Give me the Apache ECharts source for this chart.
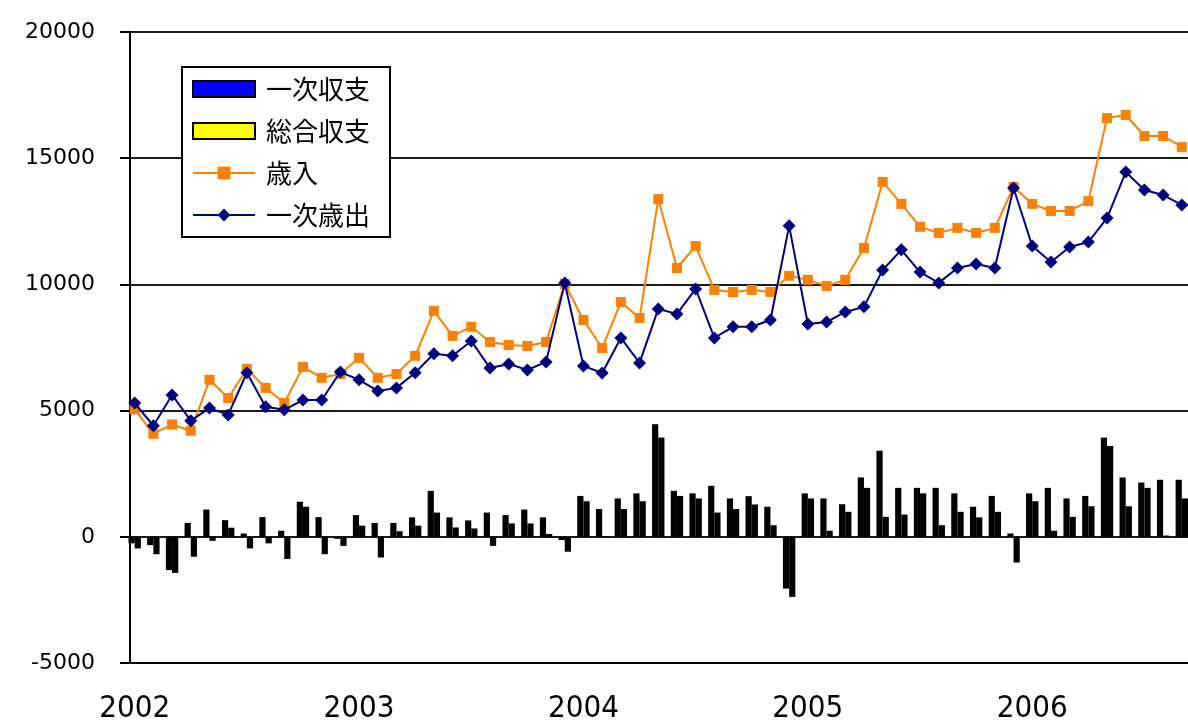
<!DOCTYPE html>
<html>
<head>
<meta charset="utf-8">
<script src="https://cdn.jsdelivr.net/npm/echarts@6/dist/echarts.min.js"></script>
<style>
html,body{margin:0;padding:0;background:#fff;}
#chart{width:1188px;height:725px;}
</style>
</head>
<body>
<div id="chart"></div>
<script>
// Monthly categories Jan 2002 - Sep 2006
const months = [];
for (let y = 2002; y <= 2006; y++) for (let m = 1; m <= 12; m++) months.push(y + '-' + (m < 10 ? '0' + m : m));
const yearLabels = ['2002', '2003', '2004', '2005', '2006'];

const primaryBalance = [ // 一次収支
  -260, -330, -1320, 550, 1080, 660, 130, 780, 240, 1390, 780, -80,
  860, 550, 550, 770, 1820, 770, 650, 960, 860, 1080, 770, -130,
  1620, 1100, 1520, 1720, 4460, 1820, 1720, 2020, 1520, 1610, 1190, -2050,
  1720, 1520, 1290, 2350, 3410, 1940, 1940, 1940, 1720, 1190, 1620, 130,
  1720, 1940, 1520, 1620, 3930, 2350, 2150, 2260, 2260
];
const overallBalance = [ // 総合収支
  -460, -690, -1430, -790, -160, 360, -460, -260, -880, 1190, -690, -360,
  440, -820, 220, 440, 960, 370, 330, -360, 530, 530, 110, -590,
  1410, 30, 1100, 1410, 3930, 1620, 1520, 960, 1100, 1280, 460, -2380,
  1520, 240, 990, 1940, 790, 880, 1720, 460, 990, 770, 990, -1020,
  1410, 240, 790, 1210, 3600, 1210, 1940, 50, 1520
];
const revenue = [ // 歳入
  5050, 4080, 4450, 4200, 6220, 5500, 6650, 5900, 5300, 6730, 6300, 6450,
  7090, 6300, 6450, 7170, 8950, 7960, 8320, 7720, 7600, 7560, 7720, 10020,
  8590, 7480, 9300, 8670, 13380, 10650, 11520, 9780, 9700, 9780, 9700, 10340,
  10180, 9940, 10180, 11440, 14060, 13190, 12280, 12040, 12240, 12040, 12240, 13860,
  13190, 12910, 12910, 13300, 16590, 16710, 15880, 15880, 15440
];
const primaryExpenditure = [ // 一次歳出
  5300, 4400, 5620, 4600, 5100, 4830, 6500, 5150, 5030, 5420, 5420, 6530,
  6220, 5780, 5900, 6500, 7250, 7170, 7760, 6690, 6850, 6610, 6930, 10060,
  6770, 6490, 7880, 6890, 9030, 8830, 9820, 7880, 8320, 8320, 8590, 12320,
  8430, 8510, 8910, 9110, 10570, 11370, 10490, 10060, 10650, 10810, 10650, 13820,
  11520, 10890, 11480, 11680, 12630, 14450, 13740, 13540, 13150
];
const yTicks = [-5000, 0, 5000, 10000, 15000, 20000];

const pairs = arr => arr.map((v, i) => [i, v]);

const chart = echarts.init(document.getElementById('chart'), null, {renderer: 'canvas'});
chart.setOption({
  animation: false,
  backgroundColor: '#ffffff',
  grid: {left: 130, top: 32, right: 0, height: 631, containLabel: false},
  legend: {
    orient: 'vertical',
    left: 182, top: 67,
    backgroundColor: '#ffffff',
    borderColor: '#000000', borderWidth: 2, borderRadius: 0,
    padding: [9, 20, 9, 10],
    itemWidth: 62, itemHeight: 16, itemGap: 16,
    textStyle: {fontFamily: "'Noto Sans CJK JP'", fontSize: 26, color: '#000', padding: [0, 0, 0, 6]},
    data: [
      {name: '一次収支', icon: 'rect', itemStyle: {color: '#0000ff', borderColor: '#000', borderWidth: 2}},
      {name: '総合収支', icon: 'rect', itemStyle: {color: '#ffff00', borderColor: '#000', borderWidth: 2}},
      {name: '歳入'},
      {name: '一次歳出'}
    ]
  },
  xAxis: {
    type: 'value',
    min: -0.25, max: 56.33,
    axisLine: {show: true, onZero: false, lineStyle: {color: '#000', width: 2}},
    axisTick: {show: false},
    splitLine: {show: false},
    axisLabel: {
      customValues: [0, 12, 24, 36, 48],
      formatter: v => yearLabels[Math.round(v / 12)] || '',
      fontFamily: "'DejaVu Sans Condensed', 'Liberation Sans Narrow', 'Liberation Sans', sans-serif",
      fontSize: 31, color: '#000', margin: 30
    }
  },
  yAxis: {
    type: 'value',
    min: yTicks[0], max: yTicks[yTicks.length - 1], interval: 5000,
    axisLine: {show: true, onZero: false, lineStyle: {color: '#000', width: 2}},
    axisTick: {show: true, inside: false, length: 10, lineStyle: {color: '#000', width: 2}},
    splitLine: {show: true, lineStyle: {color: '#1a1a1a', width: 2}},
    axisLabel: {fontFamily: "'DejaVu Sans'", fontSize: 22, color: '#000', margin: 35,
                formatter: v => String(v)}
  },
  series: [
    {name: '一次収支', type: 'bar', data: pairs(primaryBalance), barWidth: 6.2, barGap: '0%',
     itemStyle: {color: '#000000'}, z: 2},
    {name: '総合収支', type: 'bar', data: pairs(overallBalance), barWidth: 6.2, barGap: '0%',
     itemStyle: {color: '#000000'}, z: 2},
    {name: '歳入', type: 'line', data: pairs(revenue), symbol: 'rect', symbolSize: 10,
     lineStyle: {color: '#ff8000', width: 2}, itemStyle: {color: '#ff8000'}, z: 3},
    {name: '一次歳出', type: 'line', data: pairs(primaryExpenditure), symbol: 'diamond', symbolSize: 13,
     lineStyle: {color: '#000080', width: 2}, itemStyle: {color: '#000080'}, z: 4}
  ]
});
</script>
</body>
</html>
